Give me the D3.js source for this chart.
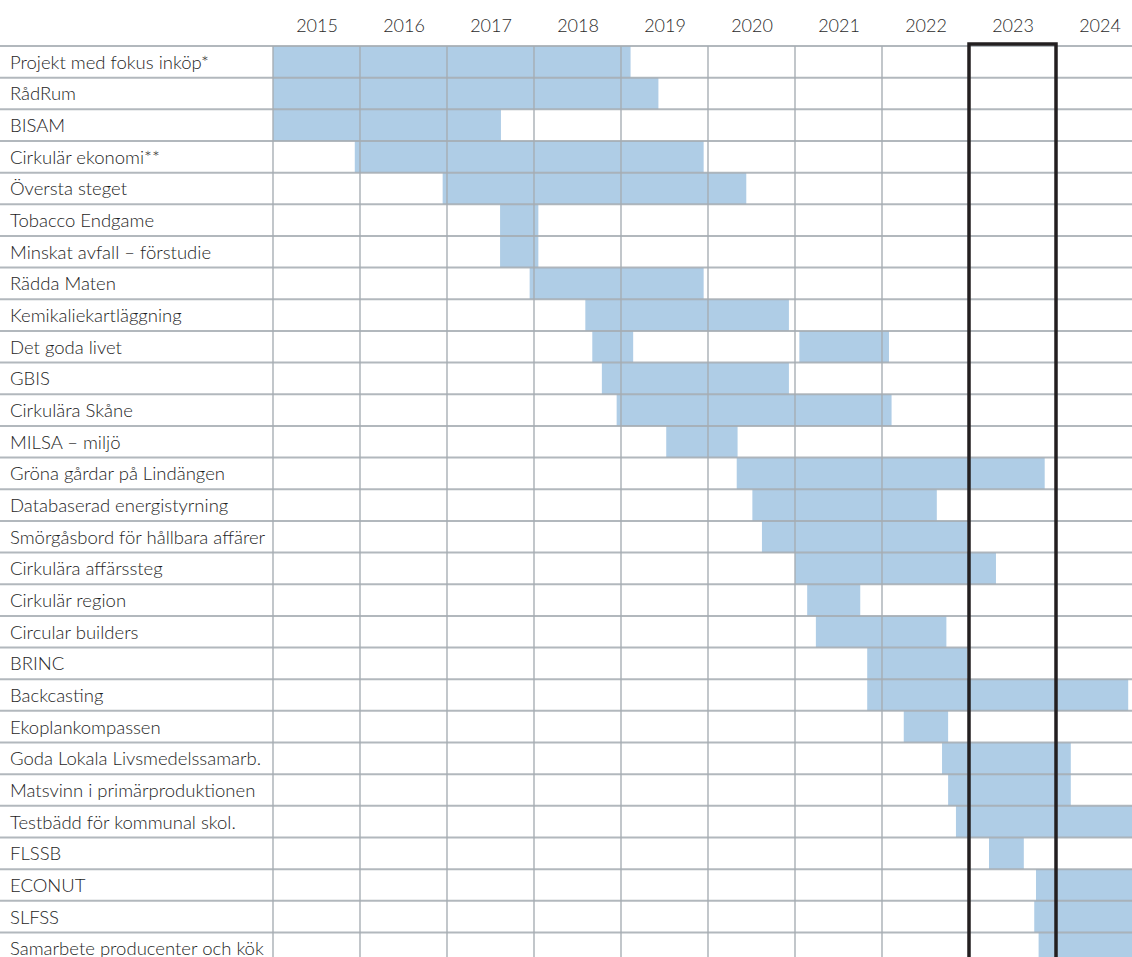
<!DOCTYPE html>
<html>
<head>
<meta charset="utf-8">
<script src="https://cdn.jsdelivr.net/npm/d3@7"></script>
<style>
  body { margin: 0; background: #fff; }
  svg text { font-family: Lato, "Open Sans", sans-serif; font-weight: 300; }
</style>
</head>
<body>
<svg id="chart"></svg>
<script>

// Projects, top to bottom
const projects = [
    "Projekt med fokus inköp*", "RådRum", "BISAM", "Cirkulär ekonomi**", "Översta steget",
    "Tobacco Endgame", "Minskat avfall – förstudie", "Rädda Maten", "Kemikaliekartläggning",
    "Det goda livet", "GBIS", "Cirkulära Skåne", "MILSA – miljö", "Gröna gårdar på Lindängen",
    "Databaserad energistyrning", "Smörgåsbord för hållbara affärer", "Cirkulära affärssteg",
    "Cirkulär region", "Circular builders", "BRINC", "Backcasting", "Ekoplankompassen",
    "Goda Lokala Livsmedelssamarb.", "Matsvinn i primärproduktionen", "Testbädd för kommunal skol.",
    "FLSSB", "ECONUT", "SLFSS", "Samarbete producenter och kök"
];

// Start / end as fractional years
const startYear = [
    2015.00, 2015.00, 2015.00, 2015.94, 2016.95,
    2017.61, 2017.61, 2017.95, 2018.59,
    2018.67, 2018.78, 2018.95, 2019.52, 2020.33,
    2020.51, 2020.62, 2021.00,
    2021.14, 2021.24, 2021.83, 2021.83, 2022.25,
    2022.69, 2022.76, 2022.85,
    2023.23, 2023.77, 2023.75, 2023.80
];
const endYear = [
    2019.11, 2019.43, 2017.62, 2019.95, 2020.44,
    2018.05, 2018.05, 2019.95, 2020.93,
    2019.14, 2020.93, 2022.11, 2020.34, 2023.87,
    2022.63, 2022.98, 2023.31,
    2021.75, 2022.74, 2022.98, 2024.83, 2022.76,
    2024.17, 2024.17, 2025.00,
    2023.63, 2025.00, 2025.00, 2025.00
];

// Second period for projects that were paused
const extraProject = ["Det goda livet"];
const extraStart = [2021.05];
const extraEnd = [2022.08];

// Year columns
const years = [2015, 2016, 2017, 2018, 2019, 2020, 2021, 2022, 2023, 2024];
const currentYear = 2023;

const width = 1132;
const height = 957;
const gridTop = 46;
const rowHeight = 31.66;
const gridLeft = 273;
const colWidth = 87;

const svg = d3.select("#chart")
    .attr("width", width)
    .attr("height", height);

// X scale (years)
const x = d3.scaleLinear()
    .domain([2015, 2025])
    .range([gridLeft, gridLeft + colWidth * 10]);

// Y scale (projects)
const y = d3.scaleBand()
    .domain(projects)
    .range([gridTop, gridTop + rowHeight * projects.length])
    .padding(0);

const bars = projects.map((p, i) => ({ project: p, start: startYear[i], end: endYear[i] }))
    .concat(extraProject.map((p, i) => ({ project: p, start: extraStart[i], end: extraEnd[i] })));

// Draw bars
svg.append("g")
    .selectAll("rect")
    .data(bars)
    .enter()
    .append("rect")
    .attr("x", d => x(d.start))
    .attr("width", d => x(d.end) - x(d.start))
    .attr("y", d => y(d.project))
    .attr("height", y.bandwidth())
    .attr("fill", "#afcde6");

// Horizontal row lines
const rowLines = d3.range(projects.length + 1).map(i => gridTop + i * y.step());
svg.append("g")
    .selectAll("line")
    .data(rowLines)
    .enter()
    .append("line")
    .attr("x1", 0)
    .attr("x2", width)
    .attr("y1", d => d)
    .attr("y2", d => d)
    .attr("stroke", "#a4abb1")
    .attr("stroke-opacity", 0.85)
    .attr("stroke-width", 2);

// Vertical year lines
svg.append("g")
    .selectAll("line")
    .data(d3.range(2015, 2026))
    .enter()
    .append("line")
    .attr("x1", d => x(d))
    .attr("x2", d => x(d))
    .attr("y1", gridTop)
    .attr("y2", height)
    .attr("stroke", "#a4abb1")
    .attr("stroke-opacity", 0.85)
    .attr("stroke-width", 1.6);

// Year labels
const xAxis = d3.axisTop(x)
    .tickValues(years.map(d => d + 0.5))
    .tickFormat(d => String(Math.floor(d)))
    .tickSize(0)
    .tickPadding(0);

svg.append("g")
    .attr("transform", `translate(0, 32)`)
    .call(xAxis)
    .call(g => g.select(".domain").remove())
    .selectAll("text")
    .attr("font-family", null)
    .attr("font-size", 18)
    .attr("fill", "#2b2b2b");

// Project labels
svg.append("g")
    .selectAll("text")
    .data(projects)
    .enter()
    .append("text")
    .attr("x", 10)
    .attr("y", d => y(d) + y.bandwidth() / 2 + 7)
    .attr("font-size", 18.5)
    .attr("fill", "#1e1e1e")
    .text(d => d);

// Highlight current year
svg.append("rect")
    .attr("x", x(currentYear))
    .attr("y", gridTop - 2)
    .attr("width", x(currentYear + 1) - x(currentYear))
    .attr("height", height)
    .attr("fill", "none")
    .attr("stroke", "#231f20")
    .attr("stroke-width", 3.5);

</script>
</body>
</html>
